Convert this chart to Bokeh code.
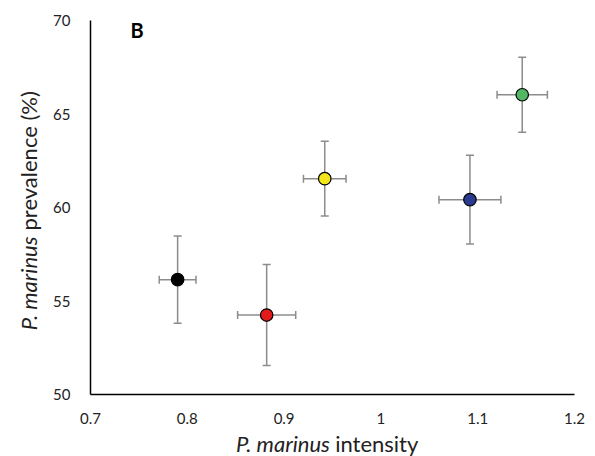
import math
from bokeh.plotting import figure
from bokeh.layouts import row, column
from bokeh.models import (Range1d, FixedTicker, CustomJSTickFormatter, Whisker, TeeHead,
                          ColumnDataSource, Label)
from bokeh.core.properties import value
from bokeh.embed import file_html
from bokeh.resources import INLINE

# data
intensity = [0.790, 0.882, 0.942, 1.092, 1.146]
prevalence = [56.14, 54.25, 61.54, 60.42, 66.03]
intensity_err = [0.019, 0.030, 0.022, 0.032, 0.026]
prevalence_err = [2.33, 2.70, 2.00, 2.37, 2.00]
colors = ["#000000", "#E31A1C", "#F2E51C", "#2A3A8E", "#52B665"]
x_ticks = [0.7, 0.8, 0.9, 1.0, 1.1, 1.2]
y_ticks = [50, 55, 60, 65, 70]
x_title = ["P. marinus", "intensity"]
y_title = ["P. marinus", "prevalence (%)"]
panel_letter = "B"

FONT = "Lato"
TXT = "#222222"
TITLE_SIZE = "22px"

src = ColumnDataSource(dict(
    x=intensity, y=prevalence, c=colors,
    xl=[a - e for a, e in zip(intensity, intensity_err)],
    xu=[a + e for a, e in zip(intensity, intensity_err)],
    yl=[a - e for a, e in zip(prevalence, prevalence_err)],
    yu=[a + e for a, e in zip(prevalence, prevalence_err)],
))

p = figure(width=545, height=428, output_backend="svg", toolbar_location=None,
           x_range=Range1d(0.7, 1.2), y_range=Range1d(50, 70),
           min_border_left=38, min_border_right=21, min_border_top=20, min_border_bottom=34)
p.outline_line_color = None
p.grid.visible = False

for ax in (p.xaxis[0], p.yaxis[0]):
    ax.axis_line_color = "black"
    ax.axis_line_width = 1.5
    ax.major_tick_in = 0
    ax.major_tick_out = 0
    ax.minor_tick_in = 0
    ax.minor_tick_out = 0
    ax.major_label_text_font = FONT
    ax.major_label_text_font_size = "15px"
    ax.major_label_text_color = TXT
p.xaxis[0].ticker = FixedTicker(ticks=x_ticks)
p.yaxis[0].ticker = FixedTicker(ticks=y_ticks)
p.xaxis[0].formatter = CustomJSTickFormatter(code="return (Math.round(tick*10)/10).toString();")
p.xaxis[0].major_label_standoff = 18
p.yaxis[0].major_label_standoff = 20

ERR = "#8C8C8C"
def head():
    return TeeHead(size=8, line_color=ERR, line_width=1.5)
wy = Whisker(source=src, base="x", upper="yu", lower="yl", dimension="height",
             line_color=ERR, line_width=1.5, upper_head=head(), lower_head=head(), level="glyph")
wx = Whisker(source=src, base="y", upper="xu", lower="xl", dimension="width",
             line_color=ERR, line_width=1.5, upper_head=head(), lower_head=head(), level="glyph")
p.add_layout(wy)
p.add_layout(wx)

p.scatter("x", "y", source=src, size=12.5, fill_color="c", line_color="black",
          line_width=1.2, level="overlay")

p.add_layout(Label(x=0.7412, y=69.5, text=panel_letter, text_font=FONT, text_font_style="bold",
                   text_font_size="20px", text_baseline="alphabetic", text_align="left",
                   text_color="black"))

# left strip: rotated y-axis title (mixed italic / upright)
left = figure(width=50, height=456, output_backend="svg", toolbar_location=None,
              x_range=Range1d(0, 50), y_range=Range1d(0, 456),
              x_axis_location=None, y_axis_location=None, min_border=0)
left.outline_line_color = None
left.grid.visible = False
left.text(x=[28], y=[220], text=[y_title[0]], angle=math.pi / 2, text_font=value(FONT),
          text_font_style="italic", text_font_size=TITLE_SIZE, text_baseline="middle",
          text_align="right", text_color=TXT)
left.text(x=[28], y=[226], text=[y_title[1]], angle=math.pi / 2, text_font=value(FONT),
          text_font_size=TITLE_SIZE, text_baseline="middle", text_align="left", text_color=TXT)

# bottom strip: x-axis title (mixed italic / upright)
bottom = figure(width=545, height=28, output_backend="svg", toolbar_location=None,
                x_range=Range1d(0, 545), y_range=Range1d(0, 28),
                x_axis_location=None, y_axis_location=None, min_border=0)
bottom.outline_line_color = None
bottom.grid.visible = False
bottom.text(x=[269.5], y=[12.8], text=[x_title[0]], text_font=value(FONT), text_font_style="italic",
            text_font_size=TITLE_SIZE, text_baseline="middle", text_align="right", text_color=TXT)
bottom.text(x=[275.5], y=[12.8], text=[x_title[1]], text_font=value(FONT),
            text_font_size=TITLE_SIZE, text_baseline="middle", text_align="left", text_color=TXT)

layout = row(left, column(p, bottom))
open("out.html", "w").write(file_html(layout, INLINE))
